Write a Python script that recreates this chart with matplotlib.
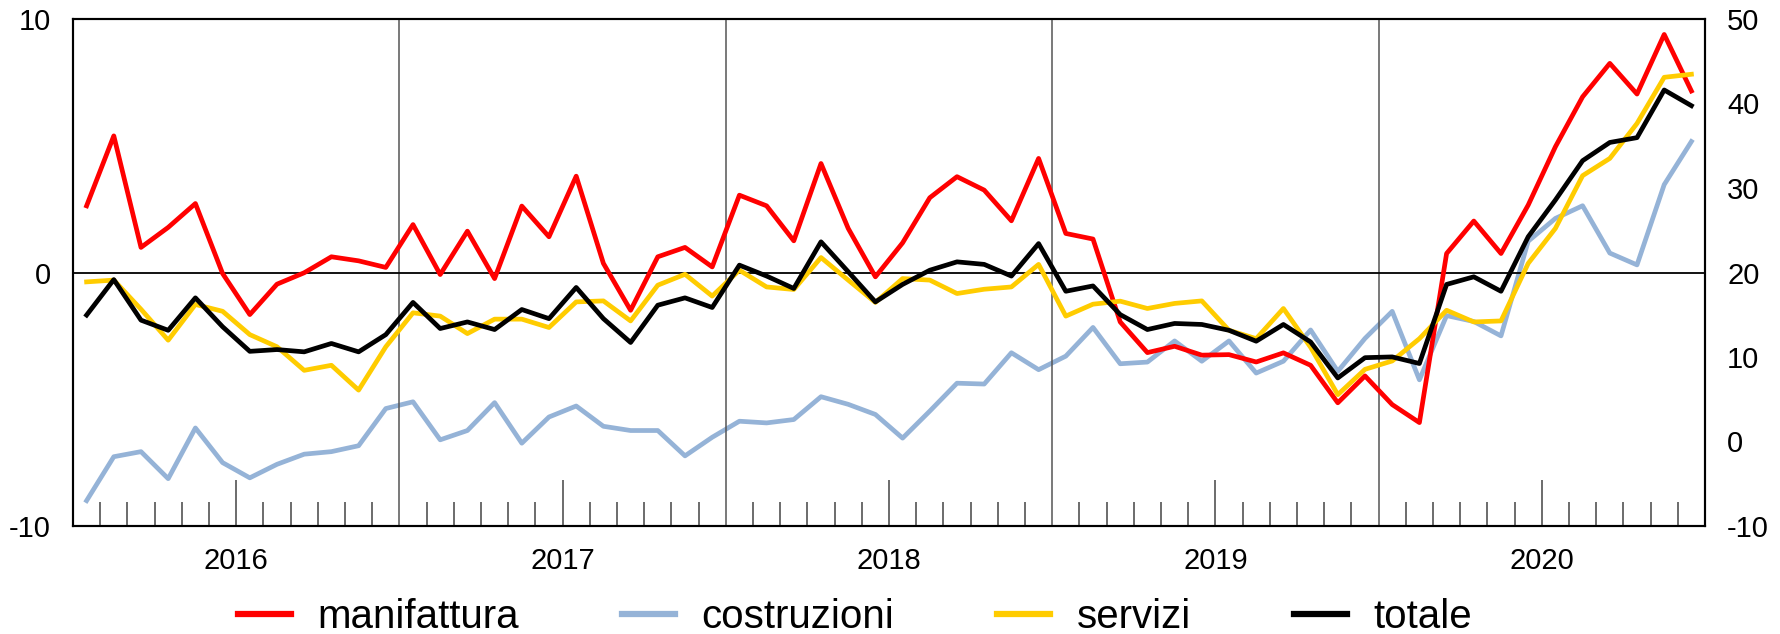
import numpy as np
import matplotlib.pyplot as plt

# ================= DATA =================
years = ["2016", "2017", "2018", "2019", "2020"]

# monthly values, Jan 2016 - Dec 2020 (left axis)
manifattura = [
    2.63, 5.39, 0.99, 1.78, 2.72, -0.04, -1.66, -0.46, -0.01, 0.62, 0.46, 0.20,
    1.89, -0.08, 1.63, -0.24, 2.62, 1.41, 3.80, 0.36, -1.49, 0.62, 0.99, 0.22,
    3.05, 2.63, 1.25, 4.30, 1.74, -0.17, 1.17, 2.95, 3.78, 3.25, 2.04, 4.50,
    1.54, 1.32, -1.95, -3.16, -2.91, -3.26, -3.24, -3.53, -3.17, -3.66, -5.14, -4.08,
    -5.21, -5.92, 0.75, 2.03, 0.75, 2.66, 4.96, 6.93, 8.25, 7.04, 9.39, 7.16,
]
servizi = [
    -0.37, -0.30, -1.45, -2.67, -1.26, -1.53, -2.45, -2.93, -3.86, -3.66, -4.64, -2.93,
    -1.59, -1.72, -2.41, -1.84, -1.84, -2.17, -1.16, -1.12, -1.91, -0.50, -0.07, -0.93,
    0.09, -0.57, -0.67, 0.59, -0.30, -1.18, -0.24, -0.30, -0.83, -0.66, -0.57, 0.32,
    -1.72, -1.25, -1.13, -1.42, -1.22, -1.12, -2.28, -2.61, -1.42, -2.95, -4.82, -3.82,
    -3.49, -2.61, -1.49, -1.95, -1.91, 0.36, 1.74, 3.82, 4.50, 5.88, 7.70, 7.82,
]
totale = [
    -1.68, -0.28, -1.88, -2.28, -1.00, -2.14, -3.11, -3.04, -3.13, -2.80, -3.13, -2.45,
    -1.18, -2.21, -1.95, -2.25, -1.46, -1.82, -0.59, -1.82, -2.76, -1.29, -1.00, -1.38,
    0.29, -0.14, -0.63, 1.21, 0.03, -1.16, -0.47, 0.09, 0.42, 0.32, -0.14, 1.14,
    -0.74, -0.53, -1.66, -2.25, -2.01, -2.05, -2.28, -2.71, -2.05, -2.74, -4.16, -3.36,
    -3.33, -3.59, -0.47, -0.17, -0.74, 1.41, 2.86, 4.41, 5.13, 5.32, 7.20, 6.58,
]
# right axis
costruzioni = [
    -7.0, -1.8, -1.2, -4.4, 1.6, -2.5, -4.3, -2.7, -1.5, -1.2, -0.5, 3.9,
    4.7, 0.2, 1.3, 4.6, -0.2, 2.9, 4.2, 1.8, 1.3, 1.3, -1.7, 0.5,
    2.4, 2.2, 2.6, 5.3, 4.4, 3.2, 0.4, 3.6, 6.9, 6.8, 10.5, 8.5,
    10.1, 13.5, 9.2, 9.4, 11.9, 9.5, 11.9, 8.1, 9.5, 13.2, 8.3, 12.2,
    15.4, 7.3, 14.9, 14.2, 12.5, 23.7, 26.4, 27.9, 22.3, 20.9, 30.4, 35.5,
]

# ================= PLOT =================
plt.rcParams["font.family"] = ["Liberation Sans", "DejaVu Sans"]
plt.rcParams["axes.unicode_minus"] = False

fig = plt.figure(figsize=(17.81, 6.34), dpi=100)
ax = fig.add_axes([73 / 1781, 1 - 526 / 634, (1705 - 73) / 1781, (526 - 19) / 634])
ax2 = ax.twinx()

x = np.arange(len(manifattura)) + 0.5
LW = 3.4

ax2.plot(x, costruzioni, color="#95B3D7", lw=LW)
ax.plot(x, manifattura, color="#FF0000", lw=LW)
ax.plot(x, servizi, color="#FFCC00", lw=LW)
ax.plot(x, totale, color="#000000", lw=LW)

ax.set_zorder(ax2.get_zorder() + 1)
ax.patch.set_visible(False)

ax.set_xlim(0, 60)
ax.set_ylim(-10, 10)
ax2.set_ylim(-10, 50)

# year separators and zero line
for b in [12, 24, 36, 48]:
    ax.axvline(b, color="#555555", lw=1.1, zorder=0)
ax.axhline(0, color="#000000", lw=1.3, zorder=0)

# x ticks: mid-year long ticks with labels, monthly short ticks
ax.set_xticks([6, 18, 30, 42, 54])
ax.set_xticklabels(years, fontsize=21)
ax.set_xticks([m for m in range(1, 60) if m % 6 != 0], minor=True)
ax.tick_params(axis="x", which="major", direction="in", length=33,
               width=1.1, color="#444444", pad=15)
ax.tick_params(axis="x", which="minor", direction="in", length=17,
               width=1.1, color="#444444")

ax.set_yticks([-10, 0, 10])
ax.tick_params(axis="y", length=0, labelsize=21, pad=16)
ax2.set_yticks(range(-10, 51, 10))
ax2.tick_params(axis="y", length=0, labelsize=21, pad=16)

for a in (ax, ax2):
    for s in a.spines.values():
        s.set_linewidth(1.5)
        s.set_color("#000000")

# legend
handles = [
    plt.Line2D([], [], color="#FF0000", lw=4.5),
    plt.Line2D([], [], color="#95B3D7", lw=4.5),
    plt.Line2D([], [], color="#FFCC00", lw=4.5),
    plt.Line2D([], [], color="#000000", lw=4.5),
]
labels = ["manifattura", "costruzioni", "servizi", "totale"]
fig.legend(handles, labels, loc="center", ncol=4, frameon=False,
           bbox_to_anchor=(855 / 1781, 1 - 617 / 634), fontsize=29,
           handlelength=1.31, handletextpad=0.67, columnspacing=2.55)

plt.savefig("out.png", dpi=100)
plt.close()
